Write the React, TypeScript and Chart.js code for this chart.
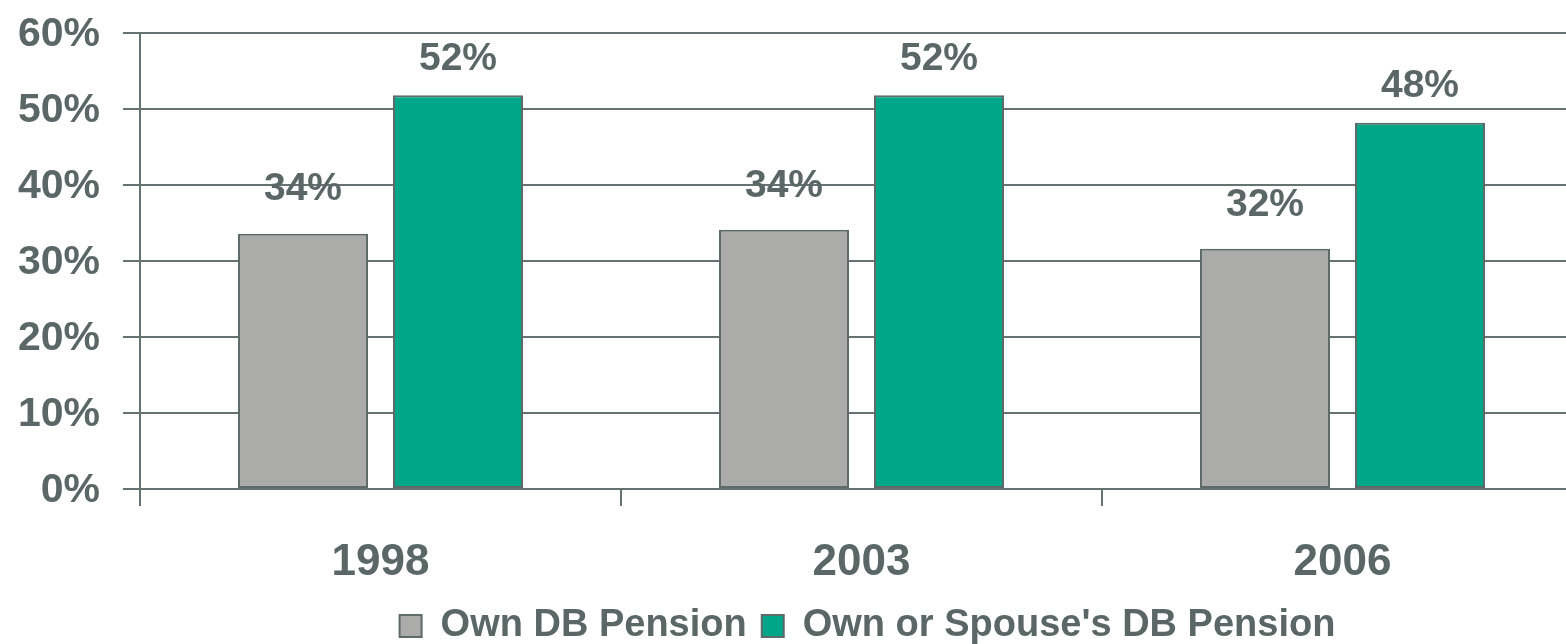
import React, { useEffect, useRef } from "react";
import { Chart, registerables } from "chart.js";

Chart.register(...registerables);

const categories = ["1998", "2003", "2006"];
const ownDB = [33.6, 34.1, 31.6];
const ownOrSpouseDB = [51.8, 51.8, 48.2];
const seriesNames = ["Own DB Pension", "Own or Spouse's DB Pension"];
const yTicks = [0, 10, 20, 30, 40, 50, 60];

const TEXT = "#5b6767";
const LINE = "#667272";
const BORDER = "#5e6a6a";
const GRAY = "#ababa9";
const GREEN = "#00a688";
const FONT = '"Liberation Sans", Arial, sans-serif';
const LABEL_OFFSETS = [44, 36];
const LEGEND_SHIFT = 6;

const barLabelPlugin = {
  id: "barLabels",
  afterDatasetsDraw(chart: any) {
    const ctx = chart.ctx;
    chart.data.datasets.forEach((ds: any, di: number) => {
      const meta = chart.getDatasetMeta(di);
      meta.data.forEach((bar: any, i: number) => {
        const v = ds.data[i] as number;
        ctx.save();
        ctx.font = `bold 39px ${FONT}`;
        ctx.fillStyle = TEXT;
        ctx.textAlign = "center";
        ctx.textBaseline = "middle";
        ctx.fillText(`${Math.round(v)}%`, bar.x, bar.y - LABEL_OFFSETS[di]);
        ctx.restore();
      });
    });
  },
};

const legendShiftPlugin = {
  id: "legendShift",
  afterLayout(chart: any) {
    if (chart.legend) {
      chart.legend.left += LEGEND_SHIFT;
      chart.legend.right += LEGEND_SHIFT;
    }
  },
};

export default function App() {
  const canvasRef = useRef<HTMLCanvasElement | null>(null);

  useEffect(() => {
    if (!canvasRef.current) return;
    const chart = new Chart(canvasRef.current, {
      type: "bar",
      data: {
        labels: categories,
        datasets: [
          {
            label: seriesNames[0],
            data: ownDB,
            backgroundColor: GRAY,
            borderColor: BORDER,
            borderWidth: 2,
            borderSkipped: false,
            categoryPercentage: 0.6445,
            barPercentage: 0.839,
          },
          {
            label: seriesNames[1],
            data: ownOrSpouseDB,
            backgroundColor: GREEN,
            borderColor: BORDER,
            borderWidth: 2,
            borderSkipped: false,
            categoryPercentage: 0.6445,
            barPercentage: 0.839,
          },
        ],
      },
      options: {
        animation: false,
        responsive: true,
        maintainAspectRatio: false,
        layout: { padding: { top: 33, left: 0, right: 0, bottom: 0 } },
        plugins: {
          legend: {
            position: "bottom",
            fullSize: false,
            labels: {
              boxWidth: 22,
              boxHeight: 22,
              padding: 15,
              color: TEXT,
              font: { family: FONT, size: 38, weight: "bold" },
            },
          },
          tooltip: { enabled: false },
        },
        scales: {
          x: {
            grid: {
              display: true,
              drawOnChartArea: false,
              drawTicks: true,
              tickLength: 17,
              color: LINE,
              lineWidth: 2,
              offset: true,
            },
            border: { display: true, color: LINE, width: 2 },
            ticks: {
              color: TEXT,
              padding: 30,
              font: { family: FONT, size: 44, weight: "bold" },
            },
            afterFit: (scale: any) => {
              scale.height = 103;
            },
          },
          y: {
            min: 0,
            max: 60,
            afterBuildTicks: (scale: any) => {
              scale.ticks = yTicks.map((v) => ({ value: v }));
            },
            grid: {
              color: LINE,
              lineWidth: 2,
              drawTicks: true,
              tickLength: 17,
            },
            border: { display: true, color: LINE, width: 2 },
            ticks: {
              color: TEXT,
              padding: 23,
              labelOffset: 2,
              font: { family: FONT, size: 41, weight: "bold" },
              callback: (v: any) => `${v}%`,
            },
            afterFit: (scale: any) => {
              scale.width = 140;
              scale.paddingTop = 0;
              scale.paddingBottom = 0;
            },
          },
        },
      },
      plugins: [barLabelPlugin, legendShiftPlugin],
    });
    return () => chart.destroy();
  }, []);

  return (
    <div
      style={{
        position: "fixed",
        left: 0,
        top: 0,
        width: 1566,
        height: 644,
        overflow: "hidden",
        background: "#ffffff",
      }}
    >
      <div style={{ position: "absolute", left: 0, top: 0, width: 1583, height: 655 }}>
        <canvas ref={canvasRef} />
      </div>
    </div>
  );
}
